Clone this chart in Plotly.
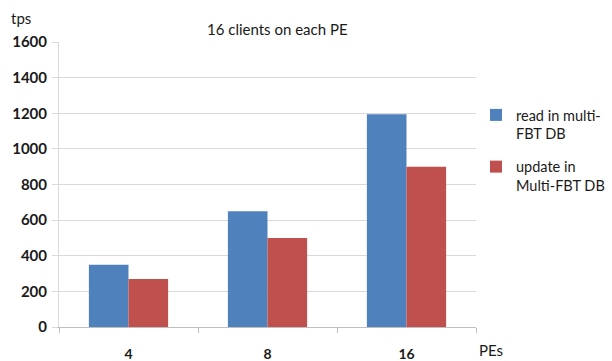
import plotly.graph_objects as go

categories = ["4", "8", "16"]
read_tps = [350, 650, 1195]
update_tps = [270, 500, 900]
series_names = ["read in multi-<br>FBT DB", "update in<br>Multi-FBT DB"]
y_ticks = [0, 200, 400, 600, 800, 1000, 1200, 1400, 1600]

FONT = "Lato"
W, H = 612, 361
L, R, T, B = 59, 136, 42, 34

fig = go.Figure()
fig.add_trace(go.Bar(x=categories, y=read_tps, name=series_names[0],
                     legendgroup="read",
                     marker=dict(color="#4F81BD", line=dict(width=0))))
fig.add_trace(go.Bar(x=categories, y=update_tps, name=series_names[1],
                     legendgroup="update",
                     marker=dict(color="#C0504D", line=dict(width=0))))

fig.update_layout(
    width=W, height=H,
    margin=dict(l=L, r=R, t=T, b=B, pad=0, autoexpand=False),
    paper_bgcolor="white", plot_bgcolor="white",
    barmode="group", bargap=0.43, bargroupgap=0,
    font=dict(family=FONT, color="#1a1a1a"),
    legend=dict(x=1.0, y=0.80, xanchor="left", yanchor="top",
                font=dict(size=14.5, family=FONT, color="#1a1a1a"),
                itemwidth=30, tracegroupgap=11, valign="top",
                bgcolor="rgba(0,0,0,0)"),
    showlegend=True,
)
fig.update_xaxes(
    type="category", showgrid=False, showline=True, linecolor="#bfbfbf",
    linewidth=1, ticks="outside", tickson="boundaries", ticklen=5,
    tickcolor="#bfbfbf", ticklabelstandoff=14, automargin=False,
    tickfont=dict(size=14, family=FONT, weight="bold", color="#1a1a1a"),
)
fig.update_yaxes(
    range=[0, 1600], tickvals=y_ticks, showgrid=True, gridcolor="#d9d9d9",
    gridwidth=1, showline=True, linecolor="#d9d9d9", linewidth=1,
    ticks="outside", ticklen=6, tickcolor="#d9d9d9", zeroline=False,
    ticklabelstandoff=2, automargin=False,
    tickfont=dict(size=15, family=FONT, weight="bold", color="#1a1a1a"),
)
fig.add_annotation(text="16 clients on each PE", xref="paper", yref="paper",
                   x=(277 - L) / (W - L - R), y=(H - B - 29) / (H - T - B),
                   xanchor="center", yanchor="middle", showarrow=False,
                   font=dict(size=15, family=FONT, color="#1a1a1a"))
fig.add_annotation(text="tps", xref="paper", yref="paper",
                   x=(9 - L) / (W - L - R), y=(H - B - 18) / (H - T - B),
                   xanchor="left", yanchor="middle", showarrow=False,
                   font=dict(size=15, family=FONT, color="#1a1a1a"))
fig.add_annotation(text="PEs", xref="paper", yref="paper",
                   x=(477 - L) / (W - L - R), y=(H - B - 350) / (H - T - B),
                   xanchor="left", yanchor="middle", showarrow=False,
                   font=dict(size=15, family=FONT, color="#1a1a1a"))

fig.write_html("out.html")
